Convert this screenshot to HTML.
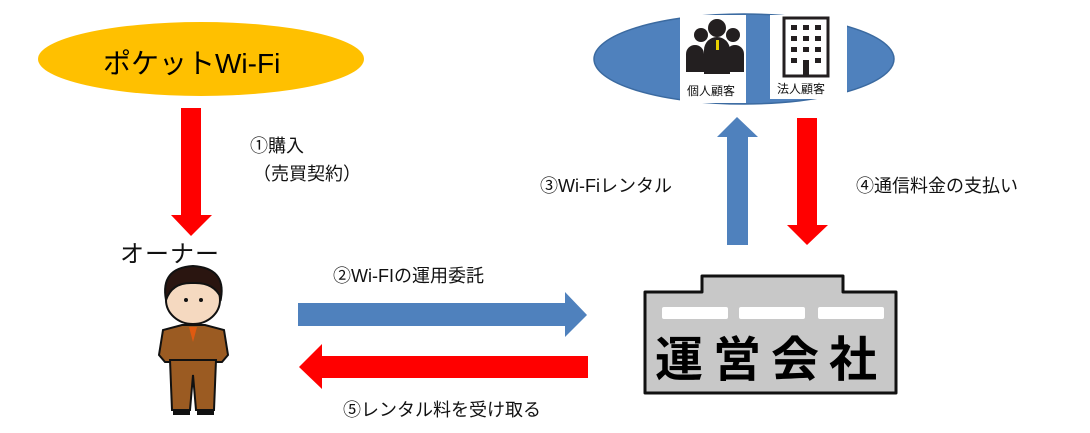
<!DOCTYPE html>
<html><head><meta charset="utf-8"><style>
body{margin:0;width:1090px;height:433px;background:#fff;overflow:hidden;position:relative;font-family:"Liberation Sans","Noto Sans CJK JP",sans-serif}
.t{position:absolute;color:#111;font-size:18px;white-space:nowrap}
</style></head><body>
<svg width="1090" height="433" style="position:absolute;left:0;top:0">
<ellipse cx="201" cy="59" rx="163" ry="37" fill="#FFC000"/>
<ellipse cx="744" cy="59" rx="150" ry="45" fill="#4F81BD" stroke="#3b6aa0" stroke-width="1.5"/>
<rect x="680" y="15" width="66" height="88" fill="#fff"/>
<rect x="770" y="15" width="77" height="84" fill="#fff"/>
<g fill="#231f20">
<circle cx="701" cy="35" r="7"/><circle cx="733" cy="35" r="7"/>
<path d="M686 72 v-18 a9 9 0 0 1 18 0 v18z"/><path d="M726 72 v-18 a9 9 0 0 1 18 0 v18z"/>
<circle cx="717" cy="28" r="9"/>
<path d="M704 74 v-24 a13 13 0 0 1 26 0 v24z"/>
</g>
<rect x="716" y="40" width="3" height="10" fill="#e8d000"/>
<rect x="784" y="18" width="44" height="58" fill="#fff" stroke="#231f20" stroke-width="3"/>
<g fill="#231f20">
<rect x="791" y="25" width="6" height="5"/><rect x="803" y="25" width="6" height="5"/><rect x="815" y="25" width="6" height="5"/>
<rect x="791" y="36" width="6" height="5"/><rect x="803" y="36" width="6" height="5"/><rect x="815" y="36" width="6" height="5"/>
<rect x="791" y="47" width="6" height="5"/><rect x="803" y="47" width="6" height="5"/><rect x="815" y="47" width="6" height="5"/>
<rect x="791" y="58" width="6" height="5"/><rect x="815" y="58" width="6" height="5"/>
<rect x="803" y="60" width="6" height="16"/>
</g>
<polygon points="181,108 201,108 201,215 212,215 191,236 171,215 181,215" fill="#FF0000"/>
<polygon points="727,245 748,245 748,137 758,137 737,117 717,137 727,137" fill="#4F81BD"/>
<polygon points="797,118 817,118 817,225 828,225 807,245 787,225 797,225" fill="#FF0000"/>
<polygon points="298,303 565,303 565,292 587,315 565,337 565,326 298,326" fill="#4F81BD"/>
<polygon points="588,356 322,356 322,344 299,367 322,389 322,378 588,378" fill="#FF0000"/>
<path d="M702 276 H843 V292 H896 V393 H645 V292 H702 Z" fill="#C8C8C8" stroke="#111" stroke-width="3" stroke-linejoin="round"/>
<rect x="662" y="307" width="66" height="12" rx="2" fill="#fff"/>
<rect x="739" y="307" width="66" height="12" rx="2" fill="#fff"/>
<rect x="818" y="307" width="66" height="12" rx="2" fill="#fff"/>
<g stroke="#111" stroke-width="2">
<path d="M163 330 L159 355 L165 362 L222 362 L228 355 L224 330 L205 325 L182 325 Z" fill="#9B5B22"/>
<path d="M170 360 L172 410 L190 410 L193 375 L196 410 L214 410 L216 360 Z" fill="#9B5B22"/>
<ellipse cx="193" cy="300" rx="27" ry="24" fill="#F5D9C0"/>
<path d="M166 300 Q160 268 193 266 Q226 268 221 298 Q214 282 193 283 Q172 282 166 300Z" fill="#2a1510"/>
</g>
<rect x="173" y="411" width="17" height="4" fill="#111"/><rect x="197" y="411" width="17" height="4" fill="#111"/>
<polygon points="189,327 197,327 193,342" fill="#E05A10"/>
<circle cx="186" cy="300" r="2" fill="#111"/><circle cx="201" cy="300" r="2" fill="#111"/>
</svg>
<div class="t" style="left:103px;top:42px;font-size:28px;color:#000">ポケットWi-Fi</div>
<div class="t" style="left:687px;top:82px;font-size:12px">個人顧客</div>
<div class="t" style="left:777px;top:80px;font-size:12px">法人顧客</div>
<div class="t" style="left:250px;top:132px">①購入</div>
<div class="t" style="left:253px;top:160px">（売買契約）</div>
<div class="t" style="left:120px;top:234px;font-size:24px;letter-spacing:1px">オーナー</div>
<div class="t" style="left:540px;top:172px">③Wi-Fiレンタル</div>
<div class="t" style="left:856px;top:172px">④通信料金の支払い</div>
<div class="t" style="left:333px;top:262px">②Wi-FIの運用委託</div>
<div class="t" style="left:343px;top:396px">⑤レンタル料を受け取る</div>
<div class="t" style="left:655px;top:320px;font-size:48px;font-weight:bold;letter-spacing:10px;color:#000">運営会社</div>
</body></html>
